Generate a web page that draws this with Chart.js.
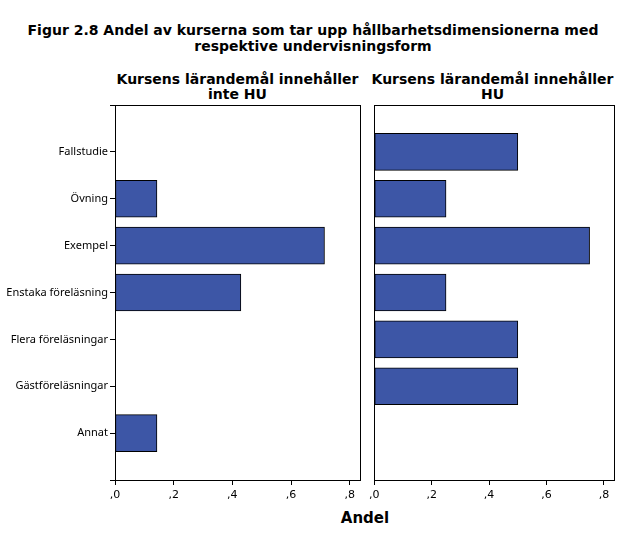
<!DOCTYPE html>
<html><head><meta charset="utf-8">
<script src="https://cdn.jsdelivr.net/npm/chart.js@4"></script>
<style>
body{margin:0;width:626px;height:541px;background:#fff;position:relative;font-family:"DejaVu Sans",sans-serif;overflow:hidden}
.t{position:absolute;font-weight:bold;text-align:center;color:#000}
.c{position:absolute}
</style></head><body>
<div class="t" style="left:0;width:626px;top:22px;font-size:14px;line-height:16px">Figur 2.8 Andel av kurserna som tar upp hållbarhetsdimensionerna med<br>respektive undervisningsform</div>
<div class="t" style="left:115px;width:245px;top:72px;font-size:14px;line-height:15px">Kursens lärandemål innehåller<br>inte HU</div>
<div class="t" style="left:370px;width:245px;top:72px;font-size:14px;line-height:15px">Kursens lärandemål innehåller<br>HU</div>
<div class="t" style="left:115px;width:500px;top:509px;font-size:15px">Andel</div>
<div class="c" style="left:0;top:0;width:365px;height:541px"><canvas id="a"></canvas></div>
<div class="c" style="left:365px;top:0;width:261px;height:541px"><canvas id="b"></canvas></div>
<script>
const categories=['','Fallstudie','Övning','Exempel','Enstaka föreläsning','Flera föreläsningar','Gästföreläsningar','Annat',''];
const valuesNoHU=[null,0,0.143,0.714,0.429,0,0,0.143,null];
const valuesHU=[null,0.5,0.25,0.75,0.25,0.5,0.5,0,null];
const tickValues=[0,0.2,0.4,0.6,0.8];
const fmt=v=>','+String(Math.round(v*10));
const box={id:'box',afterDraw(c){const a=c.chartArea,x=c.ctx;x.save();x.strokeStyle='#000';x.lineWidth=1;x.strokeRect(Math.round(a.left)+0.5,Math.round(a.top)+0.5,Math.round(a.width),Math.round(a.height));x.restore();}};
function make(id,data,showY,padL){
 return new Chart(document.getElementById(id),{type:'bar',
 data:{labels:categories,datasets:[{data,backgroundColor:'#3d56a6',borderColor:'#000',borderWidth:1,barThickness:37,borderSkipped:false}]},
 options:{indexAxis:'y',responsive:true,maintainAspectRatio:false,animation:false,
  layout:{padding:{top:105,bottom:0,left:padL,right:showY?5:12}},
  plugins:{legend:{display:false},tooltip:{enabled:false}},
  scales:{
   x:{min:0,max:0.835,afterBuildTicks(s){s.ticks=tickValues.map(v=>({value:v}));},
      grid:{display:true,drawOnChartArea:false,tickLength:5,color:'#000'},border:{color:'#000'},
      ticks:{callback:v=>fmt(v),color:'#000',font:{family:'DejaVu Sans',size:11},maxRotation:0,padding:4},
      afterFit(s){s.height=61;}},
   y:{offset:false,display:showY,grid:{display:true,offset:false,drawOnChartArea:false,tickLength:5,color:'#000'},border:{color:'#000'},
      ticks:{color:'#000',font:{family:'Noto Sans',size:11},padding:2,autoSkip:false,
        callback:(v,i)=>(i===0||i===categories.length-1)?'':categories[i]},
      afterFit(s){s.width=showY?115:0;}}
  }},plugins:[box]});
}
make('a',valuesNoHU,true,0);
make('b',valuesHU,false,6);
</script></body></html>
